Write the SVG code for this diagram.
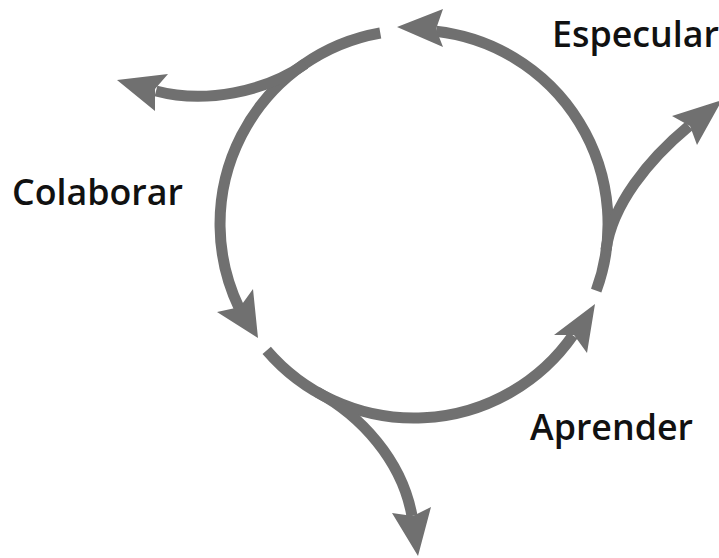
<svg xmlns="http://www.w3.org/2000/svg" width="719" height="558" viewBox="0 0 719 558">
<style>
.c{fill:none;stroke:#707070;stroke-width:11;stroke-linecap:butt}
.h{fill:#707070;stroke:none}
.t{font-family:"Open Sans","Noto Sans","Liberation Sans",sans-serif;font-size:36px;font-weight:600;fill:#111}
</style>
<rect width="719" height="558" fill="#fff"/>
<g id="connectors">
<path class="c" d="M 596.2 290.7 A 194 194 0 0 0 436 31.2"/>
<polygon class="h" points="397,27 443,9 436,29 443,47"/>
<path class="c" d="M 380.3 33 A 194 194 0 0 0 239.2 308.1"/>
<polygon class="h" points="258,338 217,312 240,307 253,289"/>
<path class="c" d="M 266.7 350.3 A 194 194 0 0 0 572.9 335.3"/>
<polygon class="h" points="595,304 554,335 574,335 587,353"/>
<path class="c" d="M 305 64 C 265 92, 205 104, 156 91"/>
<polygon class="h" points="117,80 168,74 155,89 155,111"/>
<path class="c" d="M 317 392 C 360 415, 402 460, 412 516"/>
<polygon class="h" points="418,556 392,513 413,516 431,507"/>
<path class="c" d="M 606 250 C 612 205, 648 160, 689 126"/>
<polygon class="h" points="722,100 672,116 690,126 697,145"/>
</g>
<g id="especular"><text class="t" x="552" y="47" textLength="167" lengthAdjust="spacingAndGlyphs">Especular</text></g>
<g id="colaborar"><text class="t" x="12" y="205" textLength="171" lengthAdjust="spacingAndGlyphs">Colaborar</text></g>
<g id="aprender"><text class="t" x="530" y="440" textLength="163" lengthAdjust="spacingAndGlyphs">Aprender</text></g>
</svg>
